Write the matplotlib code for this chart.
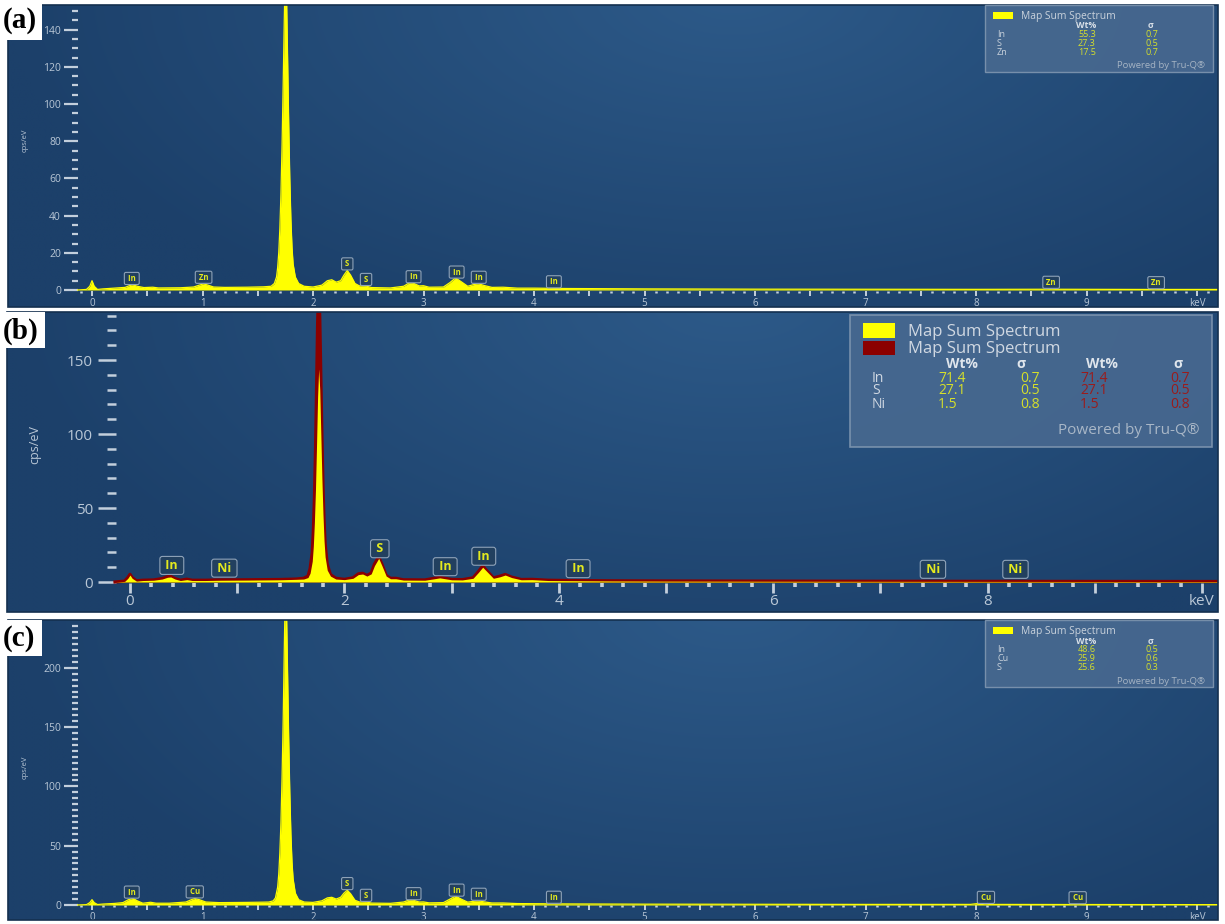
import numpy as np
import matplotlib
matplotlib.use('Agg')
import matplotlib.pyplot as plt
from matplotlib.patches import Rectangle
from matplotlib.ticker import FixedLocator, FuncFormatter

plt.rcParams['font.family'] = ['Open Sans', 'DejaVu Sans']

# ---- spectra: (energy keV, cps/eV) ----
spec_a = [(-0.13, 0), (-0.05, 0.3), (-0.02, 2.0), (0.0, 5.0), (0.02, 2.0), (0.05, 0.3),
          (0.10, 0.6), (0.20, 1.0), (0.30, 1.4), (0.34, 2.4), (0.37, 2.8), (0.41, 2.0),
          (0.47, 1.3), (0.55, 1.5), (0.60, 1.1), (0.80, 1.2), (0.92, 1.6), (0.97, 2.6),
          (1.01, 3.3), (1.05, 2.6), (1.10, 1.6), (1.20, 1.4), (1.40, 1.5), (1.55, 1.7),
          (1.62, 2.0), (1.65, 3.5), (1.67, 7), (1.68, 12), (1.69, 20), (1.70, 33),
          (1.71, 52), (1.72, 78), (1.73, 110), (1.74, 145), (1.75, 175), (1.76, 160),
          (1.77, 125), (1.78, 90), (1.79, 60), (1.80, 38), (1.81, 23), (1.82, 14),
          (1.84, 7), (1.87, 3.5), (1.92, 2.0), (2.00, 1.6), (2.08, 2.6), (2.13, 5.0),
          (2.17, 5.5), (2.21, 4.2), (2.25, 5.0), (2.28, 8.0), (2.31, 10.5), (2.34, 8.0),
          (2.38, 3.5), (2.42, 2.2), (2.47, 2.3), (2.53, 1.3), (2.70, 1.1), (2.82, 2.0),
          (2.87, 3.8), (2.91, 3.6), (2.96, 2.2), (3.00, 2.3), (3.05, 1.5), (3.18, 1.6),
          (3.24, 4.0), (3.29, 6.5), (3.34, 4.5), (3.40, 2.0), (3.46, 3.0), (3.50, 3.3),
          (3.55, 2.4), (3.62, 1.4), (3.72, 1.5), (3.85, 1.0), (4.00, 1.0), (4.30, 0.8),
          (5.0, 0.6), (6.0, 0.45), (7.0, 0.4), (8.0, 0.35), (8.60, 0.4), (8.66, 0.7),
          (8.72, 0.4), (9.55, 0.3), (9.62, 0.4), (9.68, 0.3), (10.2, 0.3)]

spec_b_yellow = [(-0.14, 0), (-0.05, 0.4), (-0.02, 2.5), (0.0, 4.7), (0.02, 2.5), (0.06, 0.6),
                 (0.12, 1.0), (0.22, 1.2), (0.30, 2.0), (0.35, 3.2), (0.38, 3.4), (0.42, 2.0),
                 (0.47, 1.0), (0.53, 1.6), (0.58, 1.0), (0.70, 1.0), (0.85, 1.2), (1.10, 1.3),
                 (1.40, 1.5), (1.55, 1.8), (1.62, 2.0), (1.66, 3.0), (1.68, 6), (1.70, 14),
                 (1.71, 24), (1.72, 40), (1.73, 62), (1.74, 92), (1.75, 125), (1.76, 144),
                 (1.77, 130), (1.78, 100), (1.79, 70), (1.80, 46), (1.81, 28), (1.82, 17),
                 (1.84, 8), (1.87, 4), (1.92, 2.0), (2.00, 1.6), (2.08, 2.5), (2.13, 5.0),
                 (2.17, 5.4), (2.21, 4.0), (2.25, 5.5), (2.28, 11.0), (2.32, 16.0), (2.35, 11.0),
                 (2.39, 4.0), (2.43, 2.2), (2.48, 2.2), (2.55, 1.3), (2.75, 1.2), (2.84, 2.2),
                 (2.89, 2.8), (2.94, 2.2), (3.00, 1.5), (3.10, 1.4), (3.20, 2.5), (3.25, 6.5),
                 (3.29, 10.0), (3.33, 7.0), (3.39, 2.5), (3.45, 3.5), (3.50, 4.7), (3.56, 3.0),
                 (3.65, 1.5), (3.75, 1.6), (3.90, 1.0), (4.10, 0.9), (4.5, 0.7), (5.0, 0.6),
                 (6.0, 0.5), (7.0, 0.45), (8.0, 0.4), (9.0, 0.35), (10.15, 0.3)]

spec_b_red = [(-0.14, 0), (-0.05, 0.6), (-0.02, 3.0), (0.0, 5.2), (0.02, 3.0), (0.06, 0.8),
              (0.12, 1.2), (0.22, 1.4), (0.30, 2.3), (0.35, 3.6), (0.38, 3.8), (0.42, 2.3),
              (0.47, 1.2), (0.53, 1.9), (0.58, 1.2), (0.70, 1.2), (0.85, 1.4), (1.10, 1.5),
              (1.40, 1.7), (1.55, 2.0), (1.62, 2.5), (1.66, 4.0), (1.68, 9), (1.70, 20),
              (1.71, 34), (1.72, 56), (1.73, 88), (1.74, 130), (1.75, 175), (1.76, 200),
              (1.77, 180), (1.78, 140), (1.79, 100), (1.80, 66), (1.81, 42), (1.82, 26),
              (1.84, 12), (1.87, 5), (1.92, 2.5), (2.00, 1.8), (2.08, 2.8), (2.13, 5.5),
              (2.17, 5.9), (2.21, 4.4), (2.25, 6.0), (2.28, 12.0), (2.32, 17.0), (2.35, 12.0),
              (2.39, 4.4), (2.43, 2.5), (2.48, 2.5), (2.55, 1.5), (2.75, 1.4), (2.84, 2.5),
              (2.89, 3.1), (2.94, 2.5), (3.00, 1.7), (3.10, 1.6), (3.20, 2.8), (3.25, 7.0),
              (3.29, 10.8), (3.33, 7.5), (3.39, 2.8), (3.45, 3.9), (3.50, 5.1), (3.56, 3.3),
              (3.65, 1.7), (3.75, 1.8), (3.90, 1.2), (4.10, 1.0), (4.5, 0.8), (5.0, 0.7),
              (6.0, 0.6), (7.0, 0.5), (8.0, 0.45), (9.0, 0.4), (10.15, 0.35)]

spec_c = [(-0.13, 0), (-0.05, 0.3), (-0.02, 2.0), (0.0, 4.5), (0.02, 2.0), (0.05, 0.4),
          (0.10, 0.8), (0.20, 1.3), (0.28, 2.0), (0.33, 4.5), (0.37, 5.6), (0.41, 3.5),
          (0.46, 1.5), (0.53, 2.3), (0.58, 1.5), (0.70, 1.5), (0.85, 2.5), (0.90, 4.5),
          (0.93, 5.5), (0.97, 4.5), (1.03, 2.5), (1.15, 2.0), (1.40, 2.2), (1.55, 2.4),
          (1.60, 2.5), (1.64, 3.5), (1.66, 6), (1.68, 15), (1.69, 26), (1.70, 44),
          (1.71, 70), (1.72, 108), (1.73, 155), (1.74, 215), (1.75, 270), (1.76, 250),
          (1.77, 195), (1.78, 140), (1.79, 95), (1.80, 60), (1.81, 36), (1.82, 22),
          (1.84, 10), (1.87, 4.5), (1.92, 2.5), (2.00, 2.2), (2.08, 3.5), (2.13, 6.0),
          (2.17, 6.5), (2.21, 5.0), (2.25, 6.5), (2.28, 10.0), (2.31, 12.5), (2.34, 9.5),
          (2.38, 4.0), (2.42, 2.5), (2.47, 2.8), (2.53, 1.6), (2.70, 1.4), (2.82, 2.5),
          (2.87, 4.2), (2.91, 4.0), (2.96, 2.5), (3.00, 2.6), (3.05, 1.8), (3.18, 2.0),
          (3.24, 5.0), (3.29, 7.5), (3.34, 5.0), (3.40, 2.4), (3.46, 3.2), (3.50, 3.5),
          (3.55, 2.6), (3.62, 1.7), (3.72, 1.7), (3.85, 1.2), (4.00, 1.1), (4.30, 0.9),
          (5.0, 0.7), (6.0, 0.6), (7.0, 0.5), (7.95, 0.5), (8.04, 1.5), (8.12, 0.5),
          (8.85, 0.4), (8.92, 0.6), (8.98, 0.4), (10.2, 0.3)]

# ---- element markers ----
labels_a = ['In', 'Zn', 'S', 'S', 'In', 'In', 'In', 'In', 'Zn', 'Zn']
label_e_a = [0.36, 1.01, 2.31, 2.48, 2.91, 3.30, 3.50, 4.18, 8.68, 9.63]
labels_b = ['In', 'Ni', 'S', 'In', 'In', 'In', 'Ni', 'Ni']
label_e_b = [0.39, 0.88, 2.33, 2.94, 3.30, 4.18, 7.49, 8.26]
labels_c = ['In', 'Cu', 'S', 'S', 'In', 'In', 'In', 'In', 'Cu', 'Cu']
label_e_c = [0.36, 0.93, 2.31, 2.48, 2.91, 3.30, 3.50, 4.18, 8.09, 8.92]

# ---- quantification tables ----
elem_a, wt_a, sig_a = ['In', 'S', 'Zn'], ['55.3', '27.3', '17.5'], ['0.7', '0.5', '0.7']
elem_b, wt_b, sig_b = ['In', 'S', 'Ni'], ['71.4', '27.1', '1.5'], ['0.7', '0.5', '0.8']
elem_c, wt_c, sig_c = ['In', 'Cu', 'S'], ['48.6', '25.9', '25.6'], ['0.5', '0.6', '0.3']

W, H = 1225, 924
YEL = '#ffff00'
RED = '#8b0000'
TXT = '#b9c7d6'
VALY = '#d6e02a'


def fx(x):
    return x / W


def fy(y):
    return 1 - y / H


fig = plt.figure(figsize=(W / 100, H / 100), dpi=100, facecolor='white')


def make_panel(rect, ox, sx, zero, sy):
    x0, y0, x1, y1 = rect
    ax = fig.add_axes([fx(x0), fy(y1), (x1 - x0) / W, (y1 - y0) / H])
    ax.set_facecolor('#1c406a')
    # soft glow of the software background
    u = np.linspace(0, 1, 400)[None, :]
    v = np.linspace(1, 0, 120)[:, None]
    r = np.sqrt(((u - 0.6) / 0.6) ** 2 + ((v - 1.05) / 1.25) ** 2)
    t = np.clip(1 - r, 0, 1)
    base = np.array([28, 64, 106]) / 255
    light = np.array([45, 90, 137]) / 255
    img = base + (light - base) * t[..., None]
    ax.imshow(img, extent=(0, 1, 0, 1), transform=ax.transAxes, aspect='auto',
              zorder=0, interpolation='bilinear')
    ax.set_xlim((x0 - ox) / sx, (x1 - ox) / sx)
    ax.set_ylim((zero - y1) / sy, (zero - y0) / sy)
    ax.set_autoscale_on(False)
    for s in ['top', 'right']:
        ax.spines[s].set_visible(False)
    ax.spines['left'].set_color('none')
    ax.spines['bottom'].set_color('none')
    fig.patches.append(Rectangle((fx(x0), fy(y1)), (x1 - x0) / W, (y1 - y0) / H,
                                 transform=fig.transFigure, fill=False,
                                 ec='#14304f', lw=1.2, zorder=3))
    return ax


def peak_labels(ax, names, energies, e, c, fs, off, pad):
    for n, x in zip(names, energies):
        y = max(np.interp(x, e, c), 0.4)
        ax.annotate(' %s ' % n, (x, y), xytext=(0, off), textcoords='offset points',
                    ha='center', va='bottom', fontsize=fs, fontweight='bold', color='#e4ea1e',
                    bbox=dict(boxstyle='round,pad=%s' % pad, fc='#22405f', ec='#8ea2b8', lw=0.8),
                    zorder=6)


def small_axes(ax, spec, ytop, yminor, names, energies):
    e = np.array([p[0] for p in spec])
    c = np.array([p[1] for p in spec])
    ax.fill_between(e, 0, c, color=YEL, lw=0, zorder=2)
    ax.plot(e, c, color=YEL, lw=0.9, zorder=2)
    ax.spines['left'].set_position(('data', -0.13))
    ax.spines['bottom'].set_position(('data', -0.35))
    ax.yaxis.set_major_locator(FixedLocator(np.arange(0, ytop + 1, 20 if ytop < 200 else 50)))
    ax.yaxis.set_minor_locator(FixedLocator(np.arange(0, ytop + 1, yminor)))
    ax.xaxis.set_major_locator(FixedLocator(np.arange(0, 10.01, 0.5)))
    ax.xaxis.set_minor_locator(FixedLocator(np.arange(-0.1, 10.15, 0.1)))
    ax.xaxis.set_major_formatter(FuncFormatter(
        lambda v, p: 'keV' if abs(v - 10) < 1e-6 else ('%d' % v if abs(v - round(v)) < 1e-6 else '')))
    ax.tick_params(axis='y', which='major', direction='out', length=10, width=1.6,
                   color='#c3cfdc', labelsize=7.5, labelcolor=TXT, pad=2)
    ax.tick_params(axis='y', which='minor', direction='out', length=4.5, width=1.6, color='#c3cfdc')
    ax.tick_params(axis='x', which='major', direction='out', length=3.5, width=1.4,
                   color='#c3cfdc', labelsize=7, labelcolor=TXT, pad=1.5)
    ax.tick_params(axis='x', which='minor', direction='out', length=1.6, width=1.8, color='#c3cfdc')
    peak_labels(ax, names, energies, e, c, 5.6, 1.5, 0.2)


def small_legend(top, elem, wt, sig):
    fig.patches.append(Rectangle((fx(985), fy(top + 67)), 228 / W, 67 / H,
                                 transform=fig.transFigure, fc='#486990', ec='#7f96b0',
                                 lw=1, alpha=0.9, zorder=4))
    fig.patches.append(Rectangle((fx(993), fy(top + 14)), 20 / W, 7 / H,
                                 transform=fig.transFigure, fc=YEL, ec='none', zorder=5))
    fig.text(fx(1021), fy(top + 10), 'Map Sum Spectrum', fontsize=7.4, color='#c9d2dc',
             va='center_baseline', ha='left', zorder=6)
    fig.text(fx(1086), fy(top + 20), 'Wt%', fontsize=6.3, color='#d9e0e8', fontweight='bold',
             va='center_baseline', ha='center', zorder=6)
    fig.text(fx(1150), fy(top + 20), 'σ', fontsize=6.3, color='#d9e0e8', fontweight='bold',
             va='center_baseline', ha='center', zorder=6)
    for i in range(3):
        yy = fy(top + 28.5 + 9 * i)
        fig.text(fx(997), yy, elem[i], fontsize=6.5, color='#c9d2dc', va='center_baseline', zorder=6)
        fig.text(fx(1078), yy, wt[i], fontsize=6.5, color=VALY, va='center_baseline', zorder=6)
        fig.text(fx(1146), yy, sig[i], fontsize=6.5, color=VALY, va='center_baseline', zorder=6)
    fig.text(fx(1205), fy(top + 60), 'Powered by Tru-Q®', fontsize=6.8, color='#a6b4c4',
             va='center_baseline', ha='right', zorder=6)


def panel_tag(txt, y0, y1, w):
    fig.patches.append(Rectangle((0, fy(y1)), w / W, (y1 - y0) / H, transform=fig.transFigure,
                                 fc='white', ec='none', zorder=7))
    fig.text(fx(3), fy((y0 + y1) / 2 + 1), txt, fontsize=21, fontweight='bold',
             family='Liberation Serif', color='black', va='center', ha='left', zorder=8)


# ---- panel (a) ----
ax_a = make_panel((8, 5, 1218, 307), 92, 110.5, 290, 1.86)
small_axes(ax_a, spec_a, 150, 5, labels_a, label_e_a)
small_legend(5, elem_a, wt_a, sig_a)
fig.text(fx(25), fy(140), 'cps/eV', rotation=90, fontsize=5.5, color=TXT, ha='center', va='center')

# ---- panel (c) ----
ax_c = make_panel((8, 620, 1218, 920), 92, 110.5, 905, 1.186)
small_axes(ax_c, spec_c, 235, 5, labels_c, label_e_c)
small_legend(620, elem_c, wt_c, sig_c)
fig.text(fx(25), fy(767), 'cps/eV', rotation=90, fontsize=5.5, color=TXT, ha='center', va='center')

# ---- panel (b) ----
ax_b = make_panel((7, 312, 1218, 612), 130, 107.2, 582, 1.48)
eb = np.array([p[0] for p in spec_b_red])
cb_red = np.array([p[1] for p in spec_b_red])
ey = np.array([p[0] for p in spec_b_yellow])
cb_yel = np.array([p[1] for p in spec_b_yellow])
ax_b.fill_between(eb, 0, cb_red, color=RED, lw=0, zorder=2)
ax_b.plot(eb, cb_red, color=RED, lw=2.3, zorder=2)
ax_b.fill_between(ey, 0, cb_yel, color=YEL, lw=0, zorder=3)
ax_b.spines['left'].set_position(('data', -0.13))
ax_b.spines['bottom'].set_position(('data', -0.9))
ax_b.yaxis.set_major_locator(FixedLocator([0, 50, 100, 150]))
ax_b.yaxis.set_minor_locator(FixedLocator(np.arange(0, 181, 10)))
ax_b.xaxis.set_major_locator(FixedLocator(np.arange(0, 10.01, 1)))
ax_b.xaxis.set_minor_locator(FixedLocator(np.arange(0, 10.1, 0.2)))
ax_b.xaxis.set_major_formatter(FuncFormatter(
    lambda v, p: 'keV' if abs(v - 10) < 1e-6 else ('%d' % v if int(round(v)) % 2 == 0 else '')))
ax_b.tick_params(axis='y', which='major', direction='out', length=13, width=1.8,
                 color='#c3cfdc', labelsize=11, labelcolor=TXT, pad=3.5)
ax_b.tick_params(axis='y', which='minor', direction='out', length=6.5, width=1.8, color='#c3cfdc')
ax_b.tick_params(axis='x', which='major', direction='out', length=7, width=2,
                 color='#c3cfdc', labelsize=11, labelcolor=TXT, pad=1)
ax_b.tick_params(axis='x', which='minor', direction='out', length=2.6, width=2.6, color='#c3cfdc')
peak_labels(ax_b, labels_b, label_e_b, ey, cb_yel, 9, 4, 0.2)
fig.text(fx(35), fy(445), 'cps/eV', rotation=90, fontsize=9, color=TXT, ha='center', va='center')

# legend of (b)
fig.patches.append(Rectangle((fx(850), fy(447)), 362 / W, 132 / H, transform=fig.transFigure,
                             fc='#486990', ec='#7f96b0', lw=1.2, alpha=0.9, zorder=4))
fig.patches.append(Rectangle((fx(863), fy(338)), 32 / W, 15 / H, transform=fig.transFigure,
                             fc=YEL, ec='none', zorder=5))
fig.patches.append(Rectangle((fx(863), fy(355)), 32 / W, 14 / H, transform=fig.transFigure,
                             fc=RED, ec='none', zorder=5))
fig.text(fx(908), fy(330), 'Map Sum Spectrum', fontsize=12, color='#d0d8e2',
         va='center_baseline', zorder=6)
fig.text(fx(908), fy(347), 'Map Sum Spectrum', fontsize=12, color='#d0d8e2',
         va='center_baseline', zorder=6)
for xc, h in [(962, 'Wt%'), (1021, 'σ'), (1102, 'Wt%'), (1178, 'σ')]:
    fig.text(fx(xc), fy(362), h, fontsize=10, fontweight='bold', color='#dfe5ec',
             ha='center', va='center_baseline', zorder=6)
for i in range(3):
    yy = fy(376 + 13 * i)
    fig.text(fx(872), yy, elem_b[i], fontsize=10, color='#d0d8e2', va='center_baseline', zorder=6)
    fig.text(fx(938), yy, wt_b[i], fontsize=10, color=VALY, va='center_baseline', zorder=6)
    fig.text(fx(1020), yy, sig_b[i], fontsize=10, color=VALY, va='center_baseline', zorder=6)
    fig.text(fx(1080), yy, wt_b[i], fontsize=10, color='#9a1c1c', va='center_baseline', zorder=6)
    fig.text(fx(1170), yy, sig_b[i], fontsize=10, color='#9a1c1c', va='center_baseline', zorder=6)
fig.text(fx(1200), fy(428), 'Powered by Tru-Q®', fontsize=11, color='#a9b7c7',
         ha='right', va='center_baseline', zorder=6)

panel_tag('(a)', 0, 40, 42)
panel_tag('(b)', 312, 348, 45)
panel_tag('(c)', 620, 656, 42)

fig.savefig('out.png', dpi=100, facecolor='white')
